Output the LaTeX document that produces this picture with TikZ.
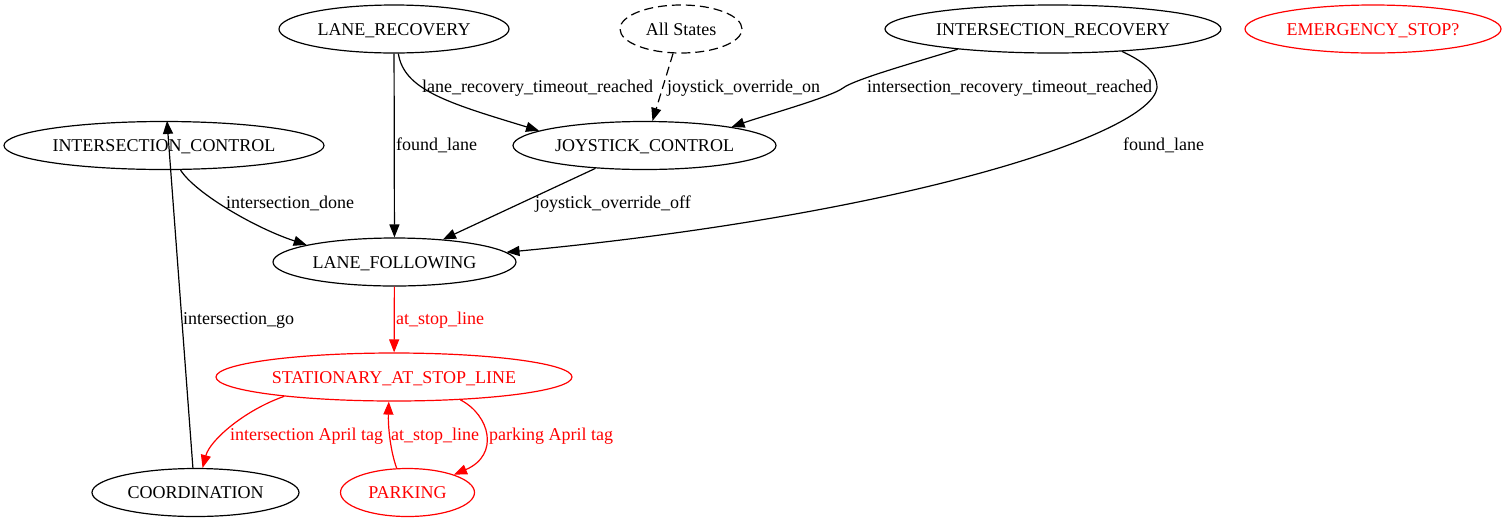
\documentclass[tikz,border=0pt]{standalone}
\usepackage{fontspec}
\setmainfont{Liberation Serif}
\usetikzlibrary{arrows.meta,shapes.geometric}
\begin{document}
\begin{tikzpicture}[x=1pt,y=1pt,
  state/.style={ellipse,draw,line width=1.2pt,inner sep=0pt,minimum height=48pt,text height=12pt,text depth=0pt,font=\fontsize{18}{21}\selectfont},
  redstate/.style={state,draw=red,text=red},
  dashstate/.style={state,dash pattern=on 9pt off 5pt},
  edge/.style={line width=1.2pt,-{Triangle[length=13pt,width=10pt]}},
  rededge/.style={edge,color=red},
  lbl/.style={anchor=west,inner sep=0pt,text height=11pt,text depth=1pt,font=\fontsize{18}{21}\selectfont},
  redlbl/.style={lbl,text=red}
]
\useasboundingbox (0,0) rectangle (1503,-523);
\fill[white] (0,0) rectangle (1503,-523);

% nodes
\node[state,minimum width=230pt] (lr) at (394,-29) {LANE\_RECOVERY};
\node[dashstate,minimum width=122pt] (as) at (681,-29) {All States};
\node[state,minimum width=336pt] (ir) at (1053,-29) {INTERSECTION\_RECOVERY};
\node[redstate,minimum width=256pt] (es) at (1373,-29) {EMERGENCY\_STOP?};
\node[state,minimum width=320pt] (ic) at (164,-145.5) {INTERSECTION\_CONTROL};
\node[state,minimum width=263pt] (jc) at (644.5,-145.5) {JOYSTICK\_CONTROL};
\node[state,minimum width=243pt] (lf) at (394.5,-262) {LANE\_FOLLOWING};
\node[redstate,minimum width=356pt] (st) at (394,-377) {STATIONARY\_AT\_STOP\_LINE};
\node[state,minimum width=207pt] (co) at (195.5,-492.5) {COORDINATION};
\node[redstate,minimum width=134pt] (pk) at (407.5,-492.5) {PARKING};

% edges
\draw[edge] (lr) -- (lf);
\node[lbl] (l1) at (396,-145) {found\_lane};

\draw[edge] (lr.-80) .. controls (404,-90) and (448,-103) .. (jc.172);
\node[lbl] (l2) at (422,-87) {lane\_recovery\_timeout\_reached};

\draw[edge,dash pattern=on 9pt off 5pt] (as.-108) -- (jc.72);
\node[lbl] (l3) at (667,-87) {joystick\_override\_on};

\draw[edge] (ir.-168) .. controls (920,-61) and (855,-79) .. (843,-88)
  .. controls (831,-97) and (763,-116) .. (jc.12);
\node[lbl] (l4) at (867,-87) {intersection\_recovery\_timeout\_reached};

\draw[edge] (ir.-18) .. controls (1140,-60) and (1157,-70) .. (1157,-88)
  .. controls (1150,-135) and (900,-215) .. (lf.5);
\node[lbl] (l5) at (1123,-145) {found\_lane};

\draw[edge] (jc) -- (lf);
\node[lbl] (l6) at (535,-203) {joystick\_override\_off};

\draw[edge] (ic.-56) .. controls (195,-193) and (255,-228) .. (lf.169);
\node[lbl] (l7) at (226,-203) {intersection\_done};

\draw[rededge] (lf) -- (st);
\node[redlbl] (l8) at (396,-319) {at\_stop\_line};

\draw[rededge] (st.-170) .. controls (245,-410) and (210,-440) .. (co.74);
\node[redlbl] (l9) at (230,-435) {intersection April tag};

\draw[rededge] (pk.114) .. controls (390,-450) and (388,-425) .. (st.-102);
\node[redlbl] (l10) at (391,-435) {at\_stop\_line};

\draw[rededge] (st.-19) .. controls (490,-415) and (500,-455) .. (pk.21);
\node[redlbl] (l11) at (489,-435) {parking April tag};

\draw[edge] (co.96) -- (ic.83);
\node[lbl] (l12) at (183,-319) {intersection\_go};
\end{tikzpicture}
\end{document}
